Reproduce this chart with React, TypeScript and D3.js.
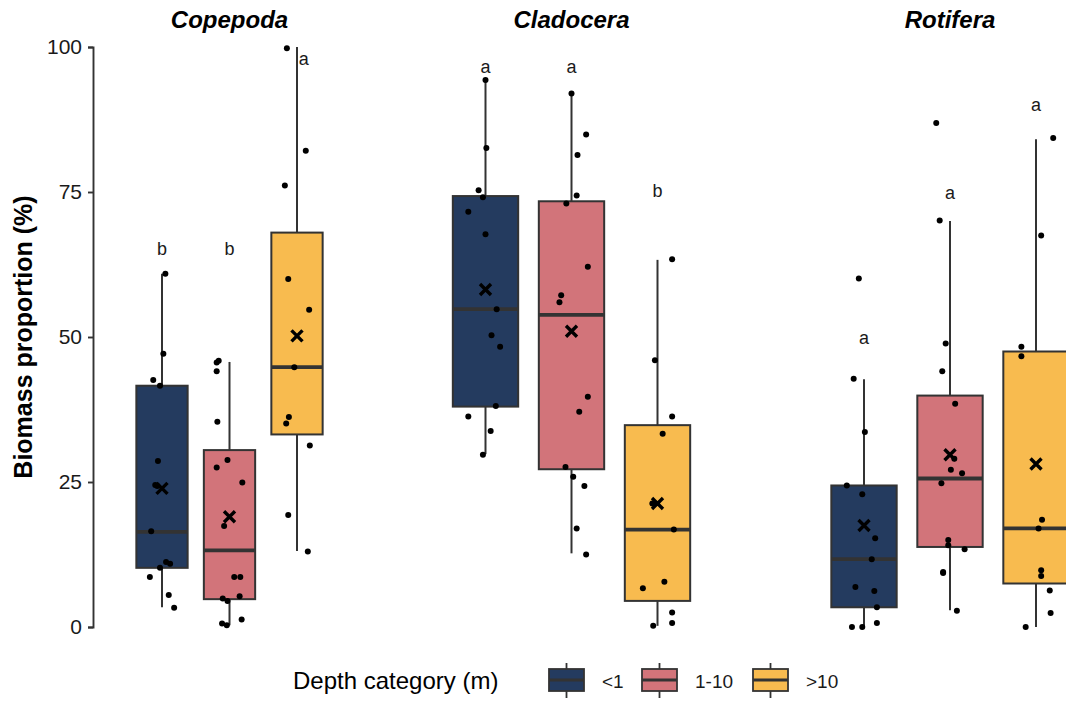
import React, { useEffect, useRef } from 'react';
import * as d3 from 'd3';

const taxa = ['Copepoda', 'Cladocera', 'Rotifera'];
const depths = ['<1', '1-10', '>10'];
const depthColors = ['#243B5F', '#D2747A', '#F8BB4F'];
const yTicks = [0, 25, 50, 75, 100];

// box stats per depth: [whisker low, q1, median, q3, whisker high, mean]
const copepodaStats = [
    [3.4, 10.2, 16.4, 41.6, 60.9, 23.9],
    [0.3, 4.8, 13.2, 30.5, 45.7, 19.0],
    [13.1, 33.2, 44.8, 68.0, 100, 50.2]
];
const cladoceraStats = [
    [29.8, 38.0, 54.8, 74.3, 94.3, 58.2],
    [12.7, 27.2, 53.8, 73.4, 92.0, 51.0],
    [0.2, 4.5, 16.8, 34.8, 63.3, 21.3]
];
const rotiferaStats = [
    [0.2, 3.4, 11.7, 24.4, 42.7, 17.5],
    [2.9, 13.8, 25.6, 39.9, 70.0, 29.7],
    [0, 7.5, 17.0, 47.5, 84.1, 28.1]
];

// raw observations (%)
const copepodaPoints = [
    [60.9, 47.1, 42.6, 41.6, 28.6, 24.5, 24.3, 16.5, 11.2, 10.9, 10.2, 8.6, 5.5, 3.3],
    [45.9, 45.6, 44.1, 35.4, 28.8, 27.5, 24.9, 17.4, 8.6, 8.6, 4.9, 4.5, 5.3, 0.6, 0.3, 1.3],
    [99.8, 82.1, 76.1, 60.0, 54.7, 44.8, 36.2, 35.1, 31.3, 19.3, 13.0]
];
const cladoceraPoints = [
    [94.3, 82.6, 75.3, 74.1, 71.6, 67.7, 54.8, 50.3, 48.3, 38.1, 36.3, 33.8, 29.7],
    [92.0, 84.9, 81.4, 74.4, 73.0, 62.1, 57.2, 56.0, 39.7, 37.1, 27.6, 25.9, 24.3, 17.0, 12.5],
    [63.4, 46.0, 36.3, 33.3, 21.3, 16.8, 7.8, 6.7, 2.5, 0.7, 0.2]
];
const rotiferaPoints = [
    [60.1, 42.8, 33.6, 24.4, 22.9, 15.3, 11.7, 6.9, 6.2, 3.4, 0.7, 0, 0],
    [86.9, 70.1, 48.9, 44.1, 38.5, 29.0, 27.1, 26.5, 24.8, 15.0, 14.1, 13.4, 9.5, 9.3, 2.8],
    [84.3, 67.5, 48.3, 46.7, 18.5, 17.0, 9.8, 8.8, 6.3, 2.4, 0]
];

// horizontal jitter, in category units
const copepodaJitter = [
    [0.05, 0.02, -0.13, -0.03, -0.06, -0.10, -0.07, -0.16, 0.06, 0.12, -0.03, -0.18, 0.10, 0.18],
    [-0.16, -0.19, -0.19, -0.18, -0.03, -0.19, 0.19, -0.08, 0.07, 0.16, -0.10, -0.03, 0.15, -0.11, -0.04, 0.18],
    [-0.15, 0.13, -0.18, -0.13, 0.18, -0.04, -0.12, -0.16, 0.19, -0.13, 0.16]
];
const cladoceraJitter = [
    [0, 0.01, -0.08, -0.03, -0.20, 0, 0.13, 0.07, 0.17, 0.12, -0.20, 0.06, -0.03],
    [0, 0.17, 0.07, 0.06, -0.06, 0.19, -0.12, -0.14, 0.19, 0.09, -0.07, 0.02, 0.15, 0.06, 0.17],
    [0.17, -0.03, 0.17, 0.06, -0.06, 0.19, 0.08, -0.17, 0.17, 0.17, -0.05]
];
const rotiferaJitter = [
    [-0.06, -0.12, 0.01, -0.20, -0.02, 0.13, 0.09, -0.10, 0.12, 0.15, 0.15, -0.14, -0.02],
    [-0.16, -0.12, -0.05, -0.09, 0.06, 0.05, 0.01, 0.14, -0.10, -0.02, -0.02, 0.17, -0.08, -0.08, 0.08],
    [0.20, 0.06, -0.17, -0.17, 0.07, 0.03, 0.06, 0.06, 0.16, 0.17, -0.12]
];

// significance letters and their heights (%)
const copepodaLetters = ['b', 'b', 'a'];
const cladoceraLetters = ['a', 'a', 'b'];
const rotiferaLetters = ['a', 'a', 'a'];
const copepodaLetterY = [64.7, 64.7, 97.6];
const cladoceraLetterY = [96.1, 96.1, 74.7];
const rotiferaLetterY = [49.5, 74.5, 89.6];

const FONT = '"Liberation Sans", Arial, Helvetica, sans-serif';
const INK = '#333333';

const App = () => {
    const svgRef = useRef();

    useEffect(() => {
        const svg = d3.select(svgRef.current);
        svg.selectAll('*').remove();

        const y = d3.scaleLinear().domain([0, 100]).range([627, 47]);

        // panel x ranges (the facets are not equally wide in the original)
        const panels = [
            { name: taxa[0], range: [121.5, 337.5], stats: copepodaStats, pts: copepodaPoints, jit: copepodaJitter, letters: copepodaLetters, letterY: copepodaLetterY, letterNudge: [0, 0, 0.1] },
            { name: taxa[1], range: [433.9, 709.1], stats: cladoceraStats, pts: cladoceraPoints, jit: cladoceraJitter, letters: cladoceraLetters, letterY: cladoceraLetterY, letterNudge: [0, 0, 0] },
            { name: taxa[2], range: [812.4, 1087.6], stats: rotiferaStats, pts: rotiferaPoints, jit: rotiferaJitter, letters: rotiferaLetters, letterY: rotiferaLetterY, letterNudge: [0, 0, 0] }
        ];

        // y axis
        const yAxis = svg.append('g')
            .attr('transform', 'translate(93,0)')
            .call(d3.axisLeft(y).tickValues(yTicks).tickSize(5).tickPadding(6));
        yAxis.select('.domain').attr('stroke', INK).attr('stroke-width', 1.9);
        yAxis.selectAll('.tick line').attr('stroke', INK).attr('stroke-width', 1.9);
        yAxis.selectAll('.tick text')
            .attr('font-family', FONT)
            .attr('font-size', 21)
            .attr('fill', '#1a1a1a');

        svg.append('text')
            .attr('transform', `translate(32,${y(50)}) rotate(-90)`)
            .attr('text-anchor', 'middle')
            .attr('font-family', FONT)
            .attr('font-weight', 'bold')
            .attr('font-size', 25)
            .attr('fill', '#000')
            .text('Biomass proportion (%)');

        panels.forEach(p => {
            const x = d3.scalePoint().domain(depths).range(p.range).padding(0.6);
            const step = x.step();
            const bw = step * 0.76;
            const g = svg.append('g');

            g.append('text')
                .attr('x', (p.range[0] + p.range[1]) / 2)
                .attr('y', 28)
                .attr('text-anchor', 'middle')
                .attr('font-family', FONT)
                .attr('font-weight', 'bold')
                .attr('font-style', 'italic')
                .attr('font-size', 24)
                .attr('fill', '#000')
                .text(p.name);

            depths.forEach((d, i) => {
                const [lo, q1, med, q3, hi, mean] = p.stats[i];
                const cx = x(d);

                // whiskers
                g.append('line')
                    .attr('x1', cx).attr('x2', cx)
                    .attr('y1', y(hi)).attr('y2', y(q3))
                    .attr('stroke', INK).attr('stroke-width', 2);
                g.append('line')
                    .attr('x1', cx).attr('x2', cx)
                    .attr('y1', y(q1)).attr('y2', y(lo))
                    .attr('stroke', INK).attr('stroke-width', 2);

                // box
                g.append('rect')
                    .attr('x', cx - bw / 2)
                    .attr('y', y(q3))
                    .attr('width', bw)
                    .attr('height', y(q1) - y(q3))
                    .attr('fill', depthColors[i])
                    .attr('stroke', INK)
                    .attr('stroke-width', 2);

                g.append('line')
                    .attr('x1', cx - bw / 2).attr('x2', cx + bw / 2)
                    .attr('y1', y(med)).attr('y2', y(med))
                    .attr('stroke', INK).attr('stroke-width', 3.8);

                // jittered observations
                g.selectAll(null)
                    .data(p.pts[i])
                    .enter().append('circle')
                    .attr('cx', (v, k) => cx + p.jit[i][k] * step)
                    .attr('cy', v => y(v))
                    .attr('r', 3)
                    .attr('fill', '#000');

                // mean marker
                const m = 5.5;
                const my = y(mean);
                g.append('path')
                    .attr('d', `M${cx - m},${my - m}L${cx + m},${my + m}M${cx - m},${my + m}L${cx + m},${my - m}`)
                    .attr('stroke', '#000')
                    .attr('stroke-width', 3.4);

                g.append('text')
                    .attr('x', cx + p.letterNudge[i] * step)
                    .attr('y', y(p.letterY[i]))
                    .attr('dy', '0.2em')
                    .attr('text-anchor', 'middle')
                    .attr('font-family', FONT)
                    .attr('font-size', 18)
                    .attr('fill', '#1a1a1a')
                    .text(p.letters[i]);
            });
        });

        // legend
        const leg = svg.append('g');
        leg.append('text')
            .attr('x', 293)
            .attr('y', 689)
            .attr('font-family', FONT)
            .attr('font-size', 24)
            .attr('fill', '#000')
            .text('Depth category (m)');

        const keyX = [549, 642, 753];
        depths.forEach((d, i) => {
            const kx = keyX[i];
            const kw = 35;
            leg.append('line')
                .attr('x1', kx + kw / 2).attr('x2', kx + kw / 2)
                .attr('y1', 663).attr('y2', 698)
                .attr('stroke', INK).attr('stroke-width', 1.8);
            leg.append('rect')
                .attr('x', kx).attr('y', 669)
                .attr('width', kw).attr('height', 22)
                .attr('fill', depthColors[i])
                .attr('stroke', INK).attr('stroke-width', 1.8);
            leg.append('line')
                .attr('x1', kx).attr('x2', kx + kw)
                .attr('y1', 680).attr('y2', 680)
                .attr('stroke', INK).attr('stroke-width', 2.8);
            leg.append('text')
                .attr('x', kx + kw + 18)
                .attr('y', 688)
                .attr('font-family', FONT)
                .attr('font-size', 19)
                .attr('fill', '#1a1a1a')
                .text(d);
        });
    }, []);

    return (
        <svg
            ref={svgRef}
            width={1066}
            height={702}
            style={{ position: 'absolute', left: 0, top: 0, background: '#fff' }}
        />
    );
};

export default App;
